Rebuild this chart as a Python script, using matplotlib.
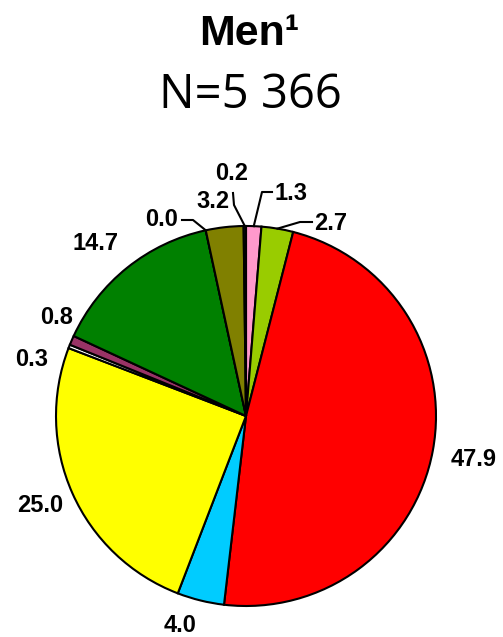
import numpy as np
import matplotlib
matplotlib.use("Agg")
import matplotlib.pyplot as plt

# shares (%) clockwise from 12 o'clock
labels = ["1.3", "2.7", "47.9", "4.0", "25.0", "0.3", "0.8", "14.7", "0.0", "3.2", "0.2"]
values = [1.3, 2.7, 47.9, 4.0, 25.0, 0.3, 0.8, 14.7, 0.0, 3.2, 0.2]
colors = ["#FF99CC", "#99CC00", "#FF0000", "#00CCFF", "#FFFF00", "#FFFFFF",
          "#993366", "#008000", "#3366FF", "#808000", "#111133"]

W, H = 503, 637
fig = plt.figure(figsize=(W / 100, H / 100), dpi=100)
ax = fig.add_axes([0, 0, 1, 1])

def px(x, y):
    return x, H - y

cx, cy = px(246, 416)
R = 190
ax.pie(values, colors=colors, startangle=90, counterclock=False,
       center=(cx, cy), radius=R, frame=True,
       wedgeprops=dict(edgecolor="black", linewidth=1.5))
ax.set_xlim(0, W)
ax.set_ylim(0, H)
ax.set_aspect("equal")
ax.axis("off")

# label centres (pixels) and optional elbow for leader lines
label_pos = [(291, 194), (331, 224), (474, 459), (180, 626), (40, 505), (32, 359),
             (57, 317), (96, 243), (162, 219), (213, 202), (232, 173)]
leaders = {0: [(272, 192), (262, 192)],
           1: [(312, 222), (300, 222)],
           8: [(182, 220), (193, 220)],
           10: [(233, 193), (234, 205)]}

tot = sum(values)
cum = np.cumsum([0] + values) / tot * 360
for i, lab in enumerate(labels):
    x, y = px(*label_pos[i])
    ax.text(x, y, lab, ha="center", va="center", fontsize=17,
            fontweight="bold", family="Liberation Sans")
    if i in leaders:
        mid = np.radians((cum[i] + cum[i + 1]) / 2)
        ex, ey = cx + R * np.sin(mid), cy + R * np.cos(mid)
        pts = [px(*p) for p in leaders[i]] + [(ex, ey)]
        ax.plot([p[0] for p in pts], [p[1] for p in pts], color="black", lw=1.5)

fig.text(249 / W, 1 - 34 / H, "Men¹", ha="center", va="center", fontsize=31,
         fontweight="bold", family="Liberation Sans")
fig.text(250 / W, 1 - 95 / H, "N=5 366", ha="center", va="center", fontsize=34,
         family="Open Sans")

fig.savefig("out.png", dpi=100)
